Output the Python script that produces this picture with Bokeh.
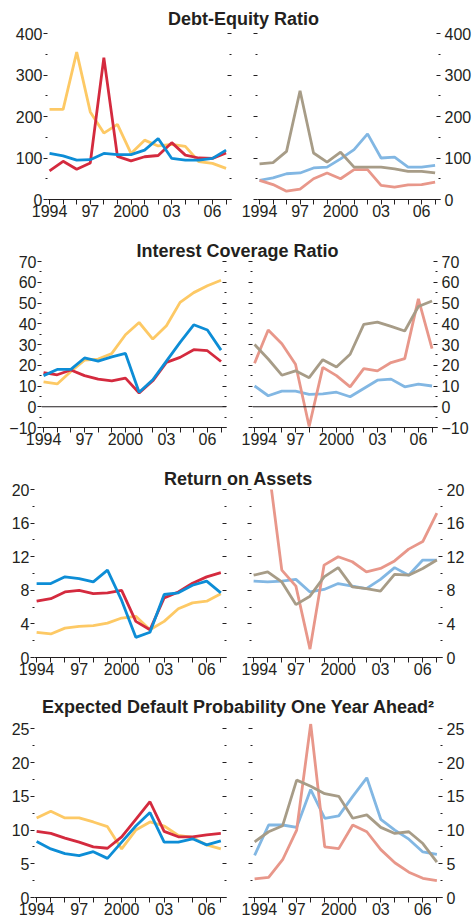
from bokeh.plotting import figure
from bokeh.layouts import column, row
from bokeh.models import Range1d, LinearAxis, FixedTicker, Label, Span, CustomJSTickFormatter
from bokeh.embed import file_html
from bokeh.resources import INLINE

nan = float("nan")

YEARS = list(range(1994, 2008))
XTICK_LABELS = {1994: "1994", 1997: "97", 2000: "2000", 2003: "03", 2006: "06"}

TITLES = ["Debt-Equity Ratio", "Interest Coverage Ratio", "Return on Assets",
          "Expected Default Probability One Year Ahead\u00b2"]

# Debt-Equity Ratio
de_l_yellow = [217, 217, 355, 211, 160, 181, 111, 143, 129, 133, 128, 91, 87, 75]
de_l_red = [69, 92, 73, 88, 342, 104, 93, 103, 106, 137, 107, 100, 99, 112]
de_l_blue = [111, 105, 95, 96, 111, 108, 108, 119, 147, 99, 95, 95, 99, 119]
de_r_lblue = [46, 52, 62, 64, 76, 78, 98, 120, 158, 100, 102, 78, 78, 82]
de_r_salmon = [46, 36, 20, 25, 50, 64, 50, 72, 72, 34, 30, 35, 36, 42]
de_r_taupe = [86, 89, 116, 262, 112, 90, 114, 78, 78, 78, 74, 68, 68, 64]

# Interest Coverage Ratio
ic_l_yellow = [12, 11, 17, 22.5, 23, 25.7, 34.7, 40.6, 32.6, 39, 50.3, 55, 58.3, 61]
ic_l_red = [16.5, 15.4, 17.7, 15, 13.3, 12.5, 13.8, 6.6, 12.5, 21.4, 23.8, 27.5, 27, 21.8]
ic_l_blue = [15, 18, 18, 23.5, 22, 24, 25.7, 7, 13, 22, 31, 39.5, 37, 27.3]
ic_r_lblue = [10, 5.3, 7.5, 7.5, 6, 6.2, 7, 4.8, 8.8, 12.8, 13.3, 9.6, 10.9, 10]
ic_r_salmon = [21, 37, 30.4, 20.5, -9.5, 19, 15, 9.6, 18.4, 17.3, 21.3, 23.2, 52, 28]
ic_r_taupe = [30, 23, 15.2, 17.3, 14, 22.7, 19.2, 25.3, 39.7, 40.8, 38.7, 36.5, 48.3, 51]

# Return on Assets
roa_l_yellow = [3.0, 2.8, 3.5, 3.7, 3.8, 4.1, 4.7, 4.9, 3.3, 4.3, 5.8, 6.5, 6.7, 7.6]
roa_l_red = [6.7, 7.0, 7.8, 8.0, 7.6, 7.7, 8.0, 4.3, 3.3, 7.1, 7.8, 8.85, 9.6, 10.1]
roa_l_blue = [8.8, 8.8, 9.6, 9.4, 9.0, 10.4, 6.8, 2.4, 3.0, 7.5, 7.7, 8.6, 9.1, 7.7]
roa_r_lblue = [9.1, 9.0, 9.1, 9.3, 7.8, 8.1, 8.8, 8.5, 8.2, 9.3, 10.7, 9.8, 11.6, 11.6]
roa_r_salmon = [nan, 23.5, 10.4, 8.5, 1.0, 11, 12, 11.4, 10.2, 10.6, 11.5, 12.9, 13.8, 17.2]
roa_r_taupe = [9.8, 10.2, 9.0, 6.3, 7.3, 9.6, 10.7, 8.4, 8.2, 7.9, 9.9, 9.8, 10.6, 11.6]

# Expected Default Probability One Year Ahead
edp_l_yellow = [11.8, 12.8, 11.8, 11.8, 11.2, 10.5, 7.2, 10.0, 11.2, 10.6, 9.2, 8.9, 7.8, 7.2]
edp_l_red = [9.8, 9.5, 8.8, 8.2, 7.5, 7.3, 9.0, 11.6, 14.2, 9.8, 9.0, 9.0, 9.3, 9.5]
edp_l_blue = [8.3, 7.2, 6.5, 6.2, 6.8, 5.8, 8.2, 10.6, 12.6, 8.2, 8.2, 8.7, 7.8, 8.4]
edp_r_lblue = [6.25, 10.75, 10.75, 10.4, 16, 11.75, 12.1, 15, 17.75, 11.6, 10, 8.65, 6.75, 6.4]
edp_r_salmon = [2.75, 3.0, 5.6, 10, 25.75, 7.5, 7.25, 10.75, 9.75, 7.1, 5.15, 3.75, 2.85, 2.5]
edp_r_taupe = [8.25, 9.75, 10.65, 17.4, 16.5, 15.4, 15, 11.75, 12.25, 10.4, 9.5, 9.75, 8.0, 5.25]

# y tick values
de_major = [0, 100, 200, 300, 400]
de_minor = [50, 150, 250, 350]
ic_major = [-10, 0, 10, 20, 30, 40, 50, 60, 70]
ic_minor = [-5, 5, 15, 25, 35, 45, 55, 65]
roa_major = [0, 4, 8, 12, 16, 20]
roa_minor = [2, 6, 10, 14, 18]
edp_major = [0, 5, 10, 15, 20, 25]
edp_minor = [2.5, 7.5, 12.5, 17.5, 22.5]

YELLOW = "#FDC965"
RED = "#D42A3E"
BLUE = "#0D8DD6"
LBLUE = "#82B7E3"
SALMON = "#E8978A"
TAUPE = "#A79C87"
TEXT = "#231F20"
FONT = "Liberation Sans"
TICK_SIZE = "16px"
TITLE_SIZE = "18px"
LW = 2.8

# layout (pixels): frames per panel, title centre, figure heights, overlaps
ROWS = [
    dict(left=[(de_l_yellow, YELLOW), (de_l_red, RED), (de_l_blue, BLUE)],
         right=[(de_r_lblue, LBLUE), (de_r_salmon, SALMON), (de_r_taupe, TAUPE)],
         yr=(0, 400), major=de_major, minor=de_minor, zero=False,
         L=(47, 231), R=(257, 441), tx=243, overlap=6, ph=208, mbt=9, fh=166),
    dict(left=[(ic_l_yellow, YELLOW), (ic_l_red, RED), (ic_l_blue, BLUE)],
         right=[(ic_r_lblue, LBLUE), (ic_r_salmon, SALMON), (ic_r_taupe, TAUPE)],
         yr=(-10, 70), major=ic_major, minor=ic_minor, zero=True,
         L=(41, 226), R=(252, 437), tx=237, overlap=10, ph=208, mbt=9, fh=166),
    dict(left=[(roa_l_yellow, YELLOW), (roa_l_red, RED), (roa_l_blue, BLUE)],
         right=[(roa_r_lblue, LBLUE), (roa_r_salmon, SALMON), (roa_r_taupe, TAUPE)],
         yr=(0, 20), major=roa_major, minor=roa_minor, zero=False,
         L=(34, 226), R=(251, 442), tx=238, overlap=10, ph=208, mbt=9, fh=168),
    dict(left=[(edp_l_yellow, YELLOW), (edp_l_red, RED), (edp_l_blue, BLUE)],
         right=[(edp_r_lblue, LBLUE), (edp_r_salmon, SALMON), (edp_r_taupe, TAUPE)],
         yr=(0, 25.8), major=edp_major, minor=edp_minor, zero=False,
         L=(34, 226), R=(252, 442), tx=238, overlap=0, ph=199, mbt=5, fh=174),
]

TOTAL_W = 474
SPLIT = 241
TITLE_H = 30
TITLE_MID = 12   # height of the title's middle above the title figure bottom
XR = (1993.85, 2007.4)


def yaxis(cfg, labels, tick_in, tick_out, minor_in, minor_out, standoff):
    ax = LinearAxis(ticker=FixedTicker(ticks=cfg["major"], minor_ticks=cfg["minor"]),
                    axis_line_color=None,
                    major_tick_line_color=TEXT, minor_tick_line_color=TEXT,
                    major_tick_in=tick_in, major_tick_out=tick_out,
                    minor_tick_in=minor_in, minor_tick_out=minor_out,
                    major_label_standoff=standoff,
                    major_label_text_font=FONT, major_label_text_font_size=TICK_SIZE,
                    major_label_text_color=TEXT)
    if not labels:
        ax.formatter = CustomJSTickFormatter(code="return ''")
    return ax


def panel(cfg, side):
    if side == "left":
        x0, x1 = 0, SPLIT
        fl, fr = cfg["L"]
    else:
        x0, x1 = SPLIT, TOTAL_W
        fl, fr = cfg["R"]
    w = x1 - x0
    mbb = cfg["ph"] - cfg["mbt"] - cfg["fh"]
    p = figure(width=w, height=cfg["ph"], x_range=Range1d(*XR), y_range=Range1d(*cfg["yr"]),
               toolbar_location=None, output_backend="svg",
               x_axis_type=None, y_axis_type=None,
               min_border_left=fl - x0, min_border_right=x1 - fr,
               min_border_top=cfg["mbt"], min_border_bottom=mbb,
               outline_line_color=None, background_fill_color=None,
               border_fill_color=None)
    xa = LinearAxis(ticker=FixedTicker(ticks=YEARS, minor_ticks=[]),
                    major_label_overrides={yy: XTICK_LABELS.get(yy, "") for yy in YEARS},
                    axis_line_color=TEXT, axis_line_width=1,
                    major_tick_line_color=TEXT, major_tick_in=0, major_tick_out=5,
                    major_label_standoff=0,
                    major_label_text_font=FONT, major_label_text_font_size=TICK_SIZE,
                    major_label_text_color=TEXT)
    p.add_layout(xa, "below")
    if side == "left":
        p.add_layout(yaxis(cfg, True, 0, 4, 0, 2, 1), "left")
        p.add_layout(yaxis(cfg, False, 4, 0, 2, 0, 0), "right")
    else:
        p.add_layout(yaxis(cfg, False, 0, 4, 0, 2, 0), "left")
        p.add_layout(yaxis(cfg, True, 4, 0, 2, 0, 4), "right")
    if cfg["zero"]:
        p.add_layout(Span(location=0, dimension="width", line_color=TEXT, line_width=1))
    for ys, c in cfg[side]:
        p.line(YEARS, ys, line_color=c, line_width=LW)
    return p


def title_fig(text, cfg):
    t = figure(width=TOTAL_W, height=TITLE_H, x_range=Range1d(0, TOTAL_W),
               y_range=Range1d(0, TITLE_H), toolbar_location=None, output_backend="svg",
               x_axis_type=None, y_axis_type=None, min_border=0,
               outline_line_color=None, background_fill_color=None,
               border_fill_color=None, margin=(0, 0, -cfg["overlap"], 0))
    t.add_layout(Label(x=cfg["tx"], y=TITLE_MID, text=text, text_align="center",
                       text_baseline="middle", text_font=FONT,
                       text_font_style="bold", text_font_size=TITLE_SIZE,
                       text_color=TEXT))
    return t


children = []
for title, cfg in zip(TITLES, ROWS):
    children.append(title_fig(title, cfg))
    children.append(row(panel(cfg, "left"), panel(cfg, "right"), spacing=0))

layout = column(*children, spacing=0)

open("out.html", "w").write(file_html(layout, INLINE))
